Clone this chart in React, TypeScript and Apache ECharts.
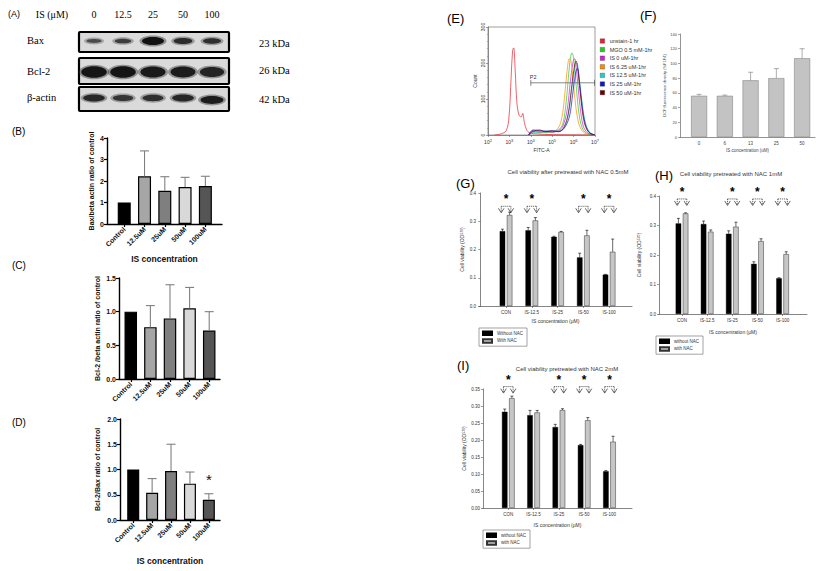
import React, { useEffect, useRef } from "react";
import * as echarts from "echarts";

const SANS = "'Liberation Sans', Arial, sans-serif";
const SERIF = "'Liberation Serif', 'Times New Roman', serif";

// ---------- (A) western blot ----------
const laneLabels = ["0", "12.5", "25", "50", "100"];
const blotProteins = ["Bax", "Bcl-2", "β-actin"];
const blotKda = ["23 kDa", "26 kDa", "42 kDa"];
const baxBand = [0.3, 0.45, 1.0, 0.65, 0.6];
const bcl2Band = [0.95, 0.95, 0.88, 0.85, 0.75];
const actinBand = [0.7, 0.55, 0.6, 0.7, 0.85];

// ---------- (B)-(D) ----------
const dosesBD = ["Control", "12.5uM", "25uM", "50uM", "100uM"];
const bdColors = ["#000000", "#a6a6a6", "#7f7f7f", "#d9d9d9", "#555555"];
const baxRatio = [1.0, 2.22, 1.55, 1.72, 1.77];
const baxRatioSd = [0, 1.18, 0.65, 0.45, 0.45];
const bcl2Ratio = [1.0, 0.77, 0.9, 1.05, 0.72];
const bcl2RatioSd = [0, 0.32, 0.5, 0.31, 0.28];
const bcl2BaxRatio = [1.0, 0.54, 0.97, 0.72, 0.4];
const bcl2BaxRatioSd = [0, 0.28, 0.53, 0.23, 0.12];
const bcl2BaxStars = [[5, 0.8]];

// ---------- (E) flow cytometry (x = log10 FITC-A, y = count) ----------
const flowNames = ["unstain-1 hr", "MGO 0.5 mM-1hr", "IS 0 uM-1hr", "IS 6.25 uM-1hr", "IS 12.5 uM-1hr", "IS 25 uM-1hr", "IS 50 uM-1hr"];
const flowColors = ["#e8202a", "#22cc22", "#d21fd2", "#ff8a00", "#22cccc", "#1414cc", "#6a0000"];
const flowUnstain = [[2.3, 0], [2.6, 3], [2.85, 12], [2.98, 50], [3.08, 160], [3.15, 235], [3.2, 242], [3.27, 180], [3.35, 90], [3.45, 55], [3.55, 50], [3.62, 60], [3.7, 35], [3.8, 15], [3.95, 6], [4.3, 3], [5.0, 1], [7.0, 0]];
const flowMgo = [[3.9, 0], [4.1, 10], [4.4, 6], [4.7, 9], [5.0, 7], [5.2, 12], [5.4, 20], [5.55, 45], [5.7, 120], [5.82, 200], [5.92, 228], [6.0, 215], [6.1, 150], [6.25, 60], [6.4, 20], [6.6, 5], [6.9, 0]];
const flowIs0 = [[3.9, 0], [4.1, 12], [4.4, 8], [4.7, 10], [5.0, 8], [5.3, 12], [5.5, 25], [5.7, 70], [5.85, 150], [5.98, 205], [6.05, 212], [6.15, 170], [6.3, 80], [6.45, 25], [6.65, 6], [6.9, 0]];
const flowIs6 = [[3.9, 0], [4.1, 8], [4.4, 10], [4.7, 6], [5.0, 9], [5.2, 14], [5.4, 35], [5.55, 90], [5.68, 170], [5.8, 212], [5.88, 205], [5.98, 150], [6.1, 80], [6.25, 30], [6.45, 8], [6.7, 0]];
const flowIs12 = [[3.9, 0], [4.1, 6], [4.4, 9], [4.7, 7], [5.0, 10], [5.3, 10], [5.55, 20], [5.75, 55], [5.9, 120], [6.05, 185], [6.15, 200], [6.25, 165], [6.4, 90], [6.55, 35], [6.75, 8], [7.0, 0]];
const flowIs25 = [[3.9, 0], [4.1, 14], [4.4, 12], [4.7, 11], [5.0, 12], [5.3, 10], [5.55, 18], [5.8, 50], [5.95, 110], [6.1, 175], [6.18, 185], [6.27, 150], [6.4, 80], [6.55, 30], [6.75, 6], [7.0, 0]];
const flowIs50 = [[3.9, 0], [4.1, 10], [4.4, 14], [4.7, 9], [5.0, 11], [5.3, 9], [5.55, 22], [5.75, 60], [5.92, 140], [6.05, 195], [6.12, 205], [6.2, 180], [6.35, 95], [6.5, 35], [6.7, 8], [7.0, 0]];
const flowCurves = [flowUnstain, flowMgo, flowIs0, flowIs6, flowIs12, flowIs25, flowIs50];
const flowGate = [[4.0, 7.0, 145]];

// ---------- (F) DCF ----------
const dcfDoses = ["0", "6", "13", "25", "50"];
const dcfValues = [56, 56, 77, 80, 107];
const dcfSd = [2, 1, 11, 13, 13];

// ---------- (G)-(I) NAC ----------
const nacCats = ["CON", "IS-12.5", "IS-25", "IS-50", "IS-100"];
const gWithout = [0.265, 0.268, 0.245, 0.172, 0.111];
const gWithoutSd = [0.007, 0.01, 0.002, 0.015, 0.001];
const gWith = [0.322, 0.303, 0.262, 0.25, 0.192];
const gWithSd = [0.01, 0.01, 0.002, 0.018, 0.045];
const gSig = [1, 2, 4, 5];
const hWithout = [0.307, 0.305, 0.272, 0.17, 0.121];
const hWithoutSd = [0.017, 0.01, 0.01, 0.007, 0.002];
const hWith = [0.341, 0.279, 0.296, 0.247, 0.203];
const hWithSd = [0.002, 0.006, 0.015, 0.008, 0.008];
const hSig = [1, 3, 4, 5];
const iWithout = [0.283, 0.273, 0.238, 0.185, 0.108];
const iWithoutSd = [0.008, 0.014, 0.008, 0.002, 0.002];
const iWith = [0.323, 0.281, 0.288, 0.258, 0.195];
const iWithSd = [0.006, 0.006, 0.004, 0.008, 0.016];
const iSig = [1, 3, 4, 5];

function buildOption() {
  const grids: any[] = [];
  const xAxes: any[] = [];
  const yAxes: any[] = [];
  const series: any[] = [];
  const graphics: any[] = [];

  const addGrid = (left: number, top: number, width: number, height: number, extra: any = {}) => {
    grids.push({ left, top, width, height, outerBoundsMode: "none", containLabel: false, ...extra });
    return grids.length - 1;
  };

  const errRender = (offset: number, cap: number, color: string, lw: number) => (params: any, api: any) => {
    const x = api.value(0);
    const p0 = api.coord([x, api.value(1)]);
    const p1 = api.coord([x, api.value(2)]);
    const cx = p0[0] + offset;
    return {
      type: "group",
      children: [
        { type: "line", shape: { x1: cx, y1: p0[1], x2: cx, y2: p1[1] }, style: { stroke: color, lineWidth: lw } },
        { type: "line", shape: { x1: cx - cap, y1: p1[1], x2: cx + cap, y2: p1[1] }, style: { stroke: color, lineWidth: lw } },
      ],
    };
  };

  const errData = (vals: number[], sd: number[]) =>
    vals.map((v, i) => [i + 1, v, v + sd[i]]).filter((d, i) => sd[i] > 0);

  // ---------- Prism panels B-D ----------
  const prism = (c: any) => {
    const gi = addGrid(c.left, c.top, c.width, c.height);
    const pos = dosesBD.map((_, i) => i + 1);
    xAxes.push({
      gridIndex: gi, type: "value", min: c.xMin, max: c.xMax,
      axisLine: { show: true, onZero: false, lineStyle: { color: "#000", width: 1.4 } },
      axisTick: { show: true, length: 3, customValues: pos, lineStyle: { color: "#000", width: 1.2 } },
      axisLabel: { customValues: pos, formatter: (v: number) => dosesBD[Math.round(v) - 1] ?? "", rotate: 45, fontSize: 7, fontWeight: "bold", fontFamily: SANS, color: "#111", margin: 4 },
      splitLine: { show: false },
      name: c.xName || "", nameLocation: "middle", nameGap: c.xNameGap || 30,
      nameTextStyle: { fontSize: 8.5, fontWeight: "bold", fontFamily: SANS, color: "#111" },
    });
    yAxes.push({
      gridIndex: gi, type: "value", min: 0, max: c.yMax, interval: c.yInterval,
      axisLine: { show: true, lineStyle: { color: "#000", width: 1.4 } },
      axisTick: { show: true, length: 3, lineStyle: { color: "#000", width: 1.2 } },
      axisLabel: { formatter: (v: number) => v.toFixed(c.decimals), fontSize: 7, fontWeight: "bold", fontFamily: SANS, color: "#111", margin: 3 },
      splitLine: { show: false },
      name: c.yName, nameLocation: "middle", nameGap: c.yNameGap, nameRotate: 90,
      nameTextStyle: { fontSize: 7, fontWeight: "bold", fontFamily: SANS, color: "#111" },
    });
    const ax = xAxes.length - 1;
    series.push({
      type: "bar", xAxisIndex: ax, yAxisIndex: ax, barWidth: c.barWidth,
      data: c.values.map((v: number, i: number) => ({ value: [i + 1, v], itemStyle: { color: bdColors[i] } })),
      itemStyle: { borderColor: "#000", borderWidth: 1.2 },
    });
    series.push({
      type: "custom", xAxisIndex: ax, yAxisIndex: ax, z: 5,
      renderItem: errRender(0, 4.5, "#808080", 1.1),
      data: errData(c.values, c.sd),
    });
    if (c.stars) {
      series.push({
        type: "custom", xAxisIndex: ax, yAxisIndex: ax, z: 6,
        renderItem: (p: any, api: any) => {
          const pt = api.coord([api.value(0), api.value(1)]);
          return { type: "text", style: { text: "*", x: pt[0], y: pt[1], fontSize: 15, fontFamily: SANS, fill: "#111", textAlign: "center", textVerticalAlign: "middle" } };
        },
        data: c.stars,
      });
    }
  };

  prism({ left: 107, top: 138, width: 115, height: 86, xMin: 0.15, xMax: 5.82, yMax: 4, yInterval: 1, decimals: 0, values: baxRatio, sd: baxRatioSd, yName: "Bax/beta actin ratio of control", yNameGap: 12, xName: "IS concentration", xNameGap: 30, barWidth: 13 });
  prism({ left: 119, top: 278, width: 101, height: 101, xMin: 0.4, xMax: 5.55, yMax: 1.5, yInterval: 0.5, decimals: 1, values: bcl2Ratio, sd: bcl2RatioSd, yName: "Bcl-2 /beta actin ratio of control", yNameGap: 18, barWidth: 12.5 });
  prism({ left: 120, top: 419, width: 100, height: 101, xMin: 0.3, xMax: 5.59, yMax: 2, yInterval: 0.5, decimals: 1, values: bcl2BaxRatio, sd: bcl2BaxRatioSd, yName: "Bcl-2/Bax ratio of control", yNameGap: 19, xName: "IS concentration", xNameGap: 36, barWidth: 12, stars: bcl2BaxStars });

  // ---------- (E) flow histogram ----------
  {
    const gi = addGrid(488, 27, 107, 108, { show: true, borderColor: "#777", borderWidth: 0.7 });
    xAxes.push({
      gridIndex: gi, type: "value", min: 2, max: 7, interval: 1,
      axisLine: { show: true, onZero: false, lineStyle: { color: "#666", width: 0.7 } },
      axisTick: { show: true, length: 2, lineStyle: { color: "#666", width: 0.6 } },
      axisLabel: {
        formatter: (v: number) => `{b|10}{s|${v}}`, margin: 3, color: "#333",
        rich: {
          b: { fontSize: 5, fontFamily: SANS, color: "#333", lineHeight: 8 },
          s: { fontSize: 4, fontFamily: SANS, color: "#333", lineHeight: 8, padding: [0, 0, 3, 0] },
        },
      },
      splitLine: { show: false },
      name: "FITC-A", nameLocation: "middle", nameGap: 12, nameTextStyle: { fontSize: 5, fontFamily: SANS, color: "#333" },
    });
    yAxes.push({
      gridIndex: gi, type: "value", min: 0, max: 300, interval: 100,
      axisLine: { show: true, lineStyle: { color: "#666", width: 0.7 } },
      axisTick: { show: true, length: 2, lineStyle: { color: "#666", width: 0.6 } },
      minorTick: { show: true, splitNumber: 5, length: 1.2, lineStyle: { color: "#888", width: 0.5 } },
      axisLabel: { rotate: 90, fontSize: 5, fontFamily: SANS, color: "#333", margin: 3 },
      splitLine: { show: false },
      name: "Count", nameLocation: "middle", nameGap: 11, nameRotate: 90, nameTextStyle: { fontSize: 5, fontFamily: SANS, color: "#333" },
    });
    const ax = xAxes.length - 1;
    flowCurves.forEach((c, i) => {
      series.push({
        type: "line", name: flowNames[i], xAxisIndex: ax, yAxisIndex: ax, data: c, smooth: 0.35,
        symbol: "none", color: flowColors[i], lineStyle: { width: 0.7, color: flowColors[i] }, itemStyle: { color: flowColors[i] },
      });
    });
    series.push({
      type: "custom", xAxisIndex: ax, yAxisIndex: ax, z: 6,
      renderItem: (p: any, api: any) => {
        const a = api.coord([api.value(0), api.value(2)]);
        const b = api.coord([api.value(1), api.value(2)]);
        const st = { stroke: "#555", lineWidth: 0.7 };
        return {
          type: "group",
          children: [
            { type: "line", shape: { x1: a[0], y1: a[1], x2: b[0], y2: b[1] }, style: st },
            { type: "line", shape: { x1: a[0], y1: a[1] - 3, x2: a[0], y2: a[1] + 3 }, style: st },
            { type: "line", shape: { x1: b[0] - 0.5, y1: b[1] - 3, x2: b[0] - 0.5, y2: b[1] + 3 }, style: st },
            { type: "text", style: { text: "P2", x: a[0] - 1, y: a[1] - 6, fontSize: 5.5, fontFamily: SANS, fill: "#333", textAlign: "left", textVerticalAlign: "middle" } },
          ],
        };
      },
      data: flowGate,
    });
  }

  // ---------- (F) DCF ----------
  {
    const gi = addGrid(680, 34, 135, 103);
    const pos = dcfDoses.map((_, i) => i + 1);
    xAxes.push({
      gridIndex: gi, type: "value", min: 0.26, max: 5.5,
      axisLine: { show: true, onZero: false, lineStyle: { color: "#666", width: 0.7 } },
      axisTick: { show: false, customValues: pos },
      axisLabel: { customValues: pos, formatter: (v: number) => dcfDoses[Math.round(v) - 1] ?? "", fontSize: 4.5, fontFamily: SANS, color: "#444", margin: 4 },
      splitLine: { show: false },
      name: "IS concentration (uM)", nameLocation: "middle", nameGap: 11, nameTextStyle: { fontSize: 4.5, fontFamily: SANS, color: "#444" },
    });
    yAxes.push({
      gridIndex: gi, type: "value", min: 0, max: 140, interval: 20,
      axisLine: { show: true, lineStyle: { color: "#666", width: 0.7 } },
      axisTick: { show: true, length: 2, lineStyle: { color: "#666", width: 0.6 } },
      axisLabel: { fontSize: 4, fontFamily: SANS, color: "#444", margin: 3 },
      splitLine: { show: false },
      name: "DCF fluorescence density (%F1F4)", nameLocation: "middle", nameGap: 10, nameRotate: 90, nameTextStyle: { fontSize: 4, fontFamily: SANS, color: "#444" },
    });
    const ax = xAxes.length - 1;
    series.push({
      type: "bar", xAxisIndex: ax, yAxisIndex: ax, barWidth: 16,
      data: dcfValues.map((v, i) => [i + 1, v]),
      itemStyle: { color: "#c3c3c3", borderColor: "#777", borderWidth: 0.5 },
    });
    series.push({ type: "custom", xAxisIndex: ax, yAxisIndex: ax, z: 5, renderItem: errRender(0, 2.5, "#777", 0.6), data: errData(dcfValues, dcfSd) });
  }

  // ---------- (G)-(I) ----------
  const sigRender = (p: any, api: any) => {
    const c = api.coord([api.value(0), api.value(1)]);
    const cx = c[0], cy = c[1], dx = 4.8;
    const solid = { stroke: "#000", lineWidth: 0.6, fill: "none" };
    const dash = { stroke: "#000", lineWidth: 0.6, lineDash: [1.2, 0.8] };
    const arrow = (x: number) => [
      { type: "line", shape: { x1: x, y1: cy, x2: x, y2: cy + 6 }, style: dash },
      { type: "polyline", shape: { points: [[x - 2.8, cy + 2], [x, cy + 6.5], [x + 2.8, cy + 2]] }, style: solid },
    ];
    return {
      type: "group",
      children: [
        { type: "line", shape: { x1: cx - dx, y1: cy, x2: cx + dx, y2: cy }, style: dash },
        ...arrow(cx - dx),
        ...arrow(cx + dx),
        { type: "text", style: { text: "*", x: cx, y: cy - 1, fontSize: 12, fontWeight: "bold", fontFamily: SANS, fill: "#000", textAlign: "center", textVerticalAlign: "bottom" } },
      ],
    };
  };

  const nacPanel = (c: any) => {
    const gi = addGrid(c.left, c.top, c.width, c.height);
    const pos = nacCats.map((_, i) => i + 1);
    xAxes.push({
      gridIndex: gi, type: "value", min: c.xMin, max: c.xMax,
      axisLine: { show: true, onZero: false, lineStyle: { color: "#333", width: 0.6 } },
      axisTick: { show: true, length: 2, customValues: pos, lineStyle: { color: "#333", width: 0.5 } },
      axisLabel: { customValues: pos, formatter: (v: number) => nacCats[Math.round(v) - 1] ?? "", fontSize: 4.5, fontFamily: SANS, color: "#333", margin: 4 },
      splitLine: { show: false },
      name: "IS concentration (μM)", nameLocation: "middle", nameGap: c.xNameGap, nameTextStyle: { fontSize: 5, fontFamily: SANS, color: "#333" },
    });
    yAxes.push({
      gridIndex: gi, type: "value", min: 0, max: c.yMax, interval: c.yInterval,
      axisLine: { show: true, lineStyle: { color: "#333", width: 0.6 } },
      axisTick: { show: true, length: 2, lineStyle: { color: "#333", width: 0.5 } },
      axisLabel: { formatter: (v: number) => v.toFixed(c.decimals), fontSize: 4.5, fontFamily: SANS, color: "#333", margin: 3 },
      splitLine: { show: false },
      name: "Cell viability (OD{sub|570})", nameLocation: "middle", nameGap: c.yNameGap, nameRotate: 90,
      nameTextStyle: { fontSize: 5, fontFamily: SANS, color: "#333", rich: { sub: { fontSize: 3.5, fontFamily: SANS, color: "#333", verticalAlign: "bottom" } } },
    });
    const ax = xAxes.length - 1;
    series.push({
      type: "bar", name: c.names[0], xAxisIndex: ax, yAxisIndex: ax, barWidth: 5.5, barGap: "30%",
      data: c.without.map((v: number, i: number) => [i + 1, v]),
      itemStyle: { color: "#000", borderColor: "#000", borderWidth: 0.4 },
    });
    series.push({
      type: "bar", name: c.names[1], xAxisIndex: ax, yAxisIndex: ax, barWidth: 5.5, barGap: "30%",
      data: c.withV.map((v: number, i: number) => [i + 1, v]),
      itemStyle: { color: "#c6c6c6", borderColor: "#333", borderWidth: 0.5 },
    });
    series.push({ type: "custom", xAxisIndex: ax, yAxisIndex: ax, z: 5, renderItem: errRender(-3.6, 1.5, "#000", 0.6), data: errData(c.without, c.withoutSd) });
    series.push({ type: "custom", xAxisIndex: ax, yAxisIndex: ax, z: 5, renderItem: errRender(3.6, 1.5, "#000", 0.6), data: errData(c.withV, c.withSd) });
    series.push({ type: "custom", xAxisIndex: ax, yAxisIndex: ax, z: 6, renderItem: sigRender, data: c.sig.map((s: number) => [s, c.sigLevel]) });
  };

  nacPanel({ left: 479, top: 193, width: 153, height: 113, xMin: -0.05, xMax: 5.89, yMax: 0.4, yInterval: 0.1, decimals: 1, yNameGap: 15, xNameGap: 12, names: ["Without NAC", "With NAC"], without: gWithout, withoutSd: gWithoutSd, withV: gWith, withSd: gWithSd, sig: gSig, sigLevel: 0.353 });
  nacPanel({ left: 659, top: 196, width: 148, height: 118, xMin: 0.085, xMax: 5.97, yMax: 0.4, yInterval: 0.1, decimals: 1, yNameGap: 18, xNameGap: 15, names: ["without NAC", "with NAC"], without: hWithout, withoutSd: hWithoutSd, withV: hWith, withSd: hWithSd, sig: hSig, sigLevel: 0.39 });
  nacPanel({ left: 483, top: 389, width: 149, height: 119, xMin: 0, xMax: 5.89, yMax: 0.35, yInterval: 0.05, decimals: 2, yNameGap: 17, xNameGap: 14, names: ["without NAC", "with NAC"], without: iWithout, withoutSd: iWithoutSd, withV: iWith, withSd: iWithSd, sig: iSig, sigLevel: 0.357 });

  // ---------- legends ----------
  const nacLegend = (left: number, top: number, data: string[]) => ({
    data, orient: "vertical", left, top, itemWidth: 9, itemHeight: 3.5, itemGap: 2.2, icon: "rect",
    padding: [2.5, 4, 2.5, 3], borderColor: "#666", borderWidth: 0.6, selectedMode: false,
    textStyle: { fontSize: 4.5, fontFamily: SANS, color: "#333" },
  });
  const legends = [
    {
      data: flowNames, orient: "vertical", left: 600, top: 38, itemWidth: 4.5, itemHeight: 4.5, itemGap: 2.6, icon: "rect",
      padding: 0, selectedMode: false, textStyle: { fontSize: 5.5, fontFamily: SANS, color: "#333" },
      itemStyle: { borderColor: "#333", borderWidth: 0.3 },
    },
    nacLegend(479, 328, ["Without NAC", "With NAC"]),
    nacLegend(656, 336, ["without NAC", "with NAC"]),
    nacLegend(483, 530, ["without NAC", "with NAC"]),
  ];

  // ---------- graphics: blot + texts ----------
  const txt = (text: string, x: number, y: number, size: number, opts: any = {}) => ({
    type: "text", x, y, silent: true,
    style: { text, fontSize: size, fontFamily: opts.family || SANS, fill: opts.color || "#000", textAlign: opts.align || "left", textVerticalAlign: "middle", fontWeight: opts.weight || "normal" },
  });
  graphics.push(txt("(A)", 8, 14, 9));
  graphics.push(txt("IS (μM)", 52, 14, 10, { family: SERIF, align: "center" }));
  const laneX = [94, 123, 153, 183, 212];
  laneLabels.forEach((l, i) => graphics.push(txt(l, laneX[i], 14, 10, { family: SERIF, align: "center" })));
  const boxY = [32, 58, 87];
  const boxH = [20, 26, 24];
  const bandY = [41, 72, 98];
  const bandSets = [baxBand, bcl2Band, actinBand];
  const kdaY = [43, 70, 99];
  blotProteins.forEach((p, r) => {
    graphics.push({ type: "rect", silent: true, shape: { x: 79, y: boxY[r], width: 150, height: boxH[r], r: 1 }, style: { fill: "#dadada", stroke: "#000", lineWidth: 2.2 } });
    bandSets[r].forEach((k, i) => {
      const rx = r === 1 ? 9.5 + 3.5 * k : r === 0 ? 6 + 5 * k : 8 + 4 * k;
      const ry = r === 1 ? 2 + 4 * k : r === 0 ? 1 + 3 * k : 1.5 + 2.8 * k;
      const cy = bandY[r] + (r === 2 && i === 4 ? 2 : 0);
      graphics.push({ type: "ellipse", silent: true, shape: { cx: laneX[i], cy, rx: rx + 2.5, ry: ry + 1.5 }, style: { fill: "#333", opacity: 0.25 + 0.2 * k } });
      graphics.push({ type: "ellipse", silent: true, shape: { cx: laneX[i], cy, rx, ry }, style: { fill: "#111", opacity: 0.45 + 0.55 * k } });
    });
    graphics.push(txt(p, 27, bandY[r] - 1, 10.5, { family: SERIF }));
    graphics.push(txt(blotKda[r], 259, kdaY[r], 10.5, { family: SERIF }));
  });

  graphics.push(txt("(B)", 12, 131, 10));
  graphics.push(txt("(C)", 12, 265, 10));
  graphics.push(txt("(D)", 12, 422, 10));
  graphics.push(txt("(E)", 447, 18, 13));
  graphics.push(txt("(F)", 640, 15, 13));
  graphics.push(txt("(G)", 456, 183, 13));
  graphics.push(txt("(H)", 655, 175, 13));
  graphics.push(txt("(I)", 457, 365, 13));
  graphics.push(txt("Cell viability after pretreated with NAC 0.5mM", 568, 172, 6, { align: "center", color: "#333" }));
  graphics.push(txt("Cell viability pretreated with NAC 1mM", 731, 174, 6, { align: "center", color: "#333" }));
  graphics.push(txt("Cell viability pretreated with NAC 2mM", 567, 369, 6, { align: "center", color: "#333" }));

  return {
    animation: false,
    backgroundColor: "#ffffff",
    textStyle: { fontFamily: SANS },
    grid: grids,
    xAxis: xAxes,
    yAxis: yAxes,
    legend: legends,
    series,
    graphic: { elements: graphics },
  };
}

export default function App() {
  const ref = useRef<HTMLDivElement>(null);
  useEffect(() => {
    if (!ref.current) return;
    const chart = echarts.init(ref.current, null, { renderer: "svg" });
    chart.setOption(buildOption() as any);
    return () => chart.dispose();
  }, []);
  return <div ref={ref} style={{ position: "absolute", left: 0, top: 0, width: 824, height: 571, background: "#fff" }} />;
}
